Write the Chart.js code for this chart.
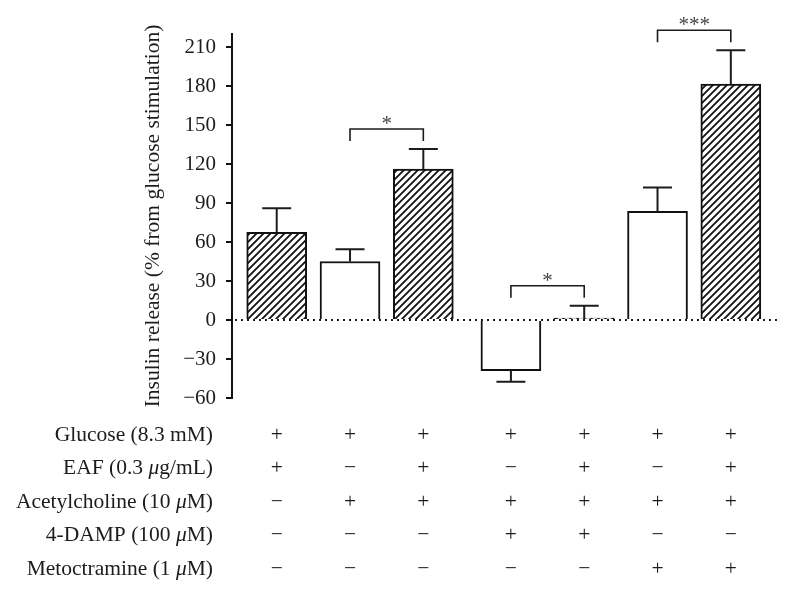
<!DOCTYPE html>
<html>
<head>
<meta charset="utf-8">
<script src="https://cdn.jsdelivr.net/npm/chart.js@4.4.0/dist/chart.umd.min.js"></script>
<style>
  body { margin: 0; background: #fff; }
</style>
</head>
<body>
<canvas id="insulinChart" width="790" height="594"></canvas>
<script>
// insulin release, % from glucose stimulation (mean and SEM)
const groups = ['Glu+EAF', 'ACh', 'ACh+EAF', 'ACh+4-DAMP', 'ACh+4-DAMP+EAF', 'ACh+Meto', 'ACh+Meto+EAF'];
const meanRelease = [67.5, 45, 116, -39, 1.5, 83.5, 181.5];
const semRelease = [18.5, 9.5, 15.5, 8.5, 9.5, 18.5, 26];
const yTicks = [-60, -30, 0, 30, 60, 90, 120, 150, 180, 210];

// treatment table under the bars
const rowLabels = ['Glucose (8.3 mM)', 'EAF (0.3 μg/mL)', 'Acetylcholine (10 μM)', '4-DAMP (100 μM)', 'Metoctramine (1 μM)'];
const glucose = ['+', '+', '+', '+', '+', '+', '+'];
const eaf = ['+', '−', '+', '−', '+', '−', '+'];
const acetylcholine = ['−', '+', '+', '+', '+', '+', '+'];
const damp = ['−', '−', '−', '+', '+', '−', '−'];
const metoctramine = ['−', '−', '−', '−', '−', '+', '+'];
const tableRows = [glucose, eaf, acetylcholine, damp, metoctramine];

// significance brackets (bar index pairs)
const sigFrom = [1, 3, 5];
const sigTo = [2, 4, 6];
const sigLabel = ['*', '*', '***'];

const FONT = 'Liberation Serif';
const INK = '#1c1c1c';

// diagonal hatch for the EAF bars
function hatch() {
    const c = document.createElement('canvas');
    c.width = 7; c.height = 7;
    const g = c.getContext('2d');
    g.fillStyle = '#fff';
    g.fillRect(0, 0, 7, 7);
    g.strokeStyle = '#111';
    g.lineWidth = 1.8;
    g.beginPath();
    g.moveTo(-1, 8); g.lineTo(8, -1);
    g.moveTo(-1, 1); g.lineTo(1, -1);
    g.moveTo(6, 8); g.lineTo(8, 6);
    g.stroke();
    return g.createPattern(c, 'repeat');
}

const extras = {
    id: 'extras',
    afterDatasetsDraw(chart) {
        const ctx = chart.ctx, y = chart.scales.y, area = chart.chartArea;
        const bars = chart.getDatasetMeta(0).data;
        const y0 = y.getPixelForValue(0);
        ctx.save();
        // dotted zero line
        ctx.strokeStyle = INK;
        ctx.lineWidth = 2;
        ctx.setLineDash([2, 4]);
        ctx.beginPath();
        ctx.moveTo(area.left + 3, y0);
        ctx.lineTo(area.right, y0);
        ctx.stroke();
        ctx.setLineDash([]);

        // one-sided error bars
        const tops = [];
        bars.forEach((bar, i) => {
            const v = meanRelease[i];
            const end = y.getPixelForValue(v + Math.sign(v) * semRelease[i]);
            tops.push(v > 0 ? end : y0);
            ctx.beginPath();
            ctx.moveTo(bar.x, bar.y);
            ctx.lineTo(bar.x, end);
            ctx.moveTo(bar.x - 14.5, end);
            ctx.lineTo(bar.x + 14.5, end);
            ctx.stroke();
        });

        // brackets with stars
        ctx.lineWidth = 1.6;
        ctx.font = '21px "' + FONT + '"';
        ctx.textAlign = 'center';
        ctx.textBaseline = 'alphabetic';
        sigFrom.forEach((a, k) => {
            const b = sigTo[k];
            const top = Math.min(tops[a], tops[b]) - 20;
            ctx.strokeStyle = INK;
            ctx.beginPath();
            ctx.moveTo(bars[a].x, top + 12);
            ctx.lineTo(bars[a].x, top);
            ctx.lineTo(bars[b].x, top);
            ctx.lineTo(bars[b].x, top + 12);
            ctx.stroke();
            ctx.fillStyle = '#444';
            ctx.fillText(sigLabel[k], (bars[a].x + bars[b].x) / 2, top + 1);
        });
        ctx.restore();
    },
    afterDraw(chart) {
        const ctx = chart.ctx, area = chart.chartArea;
        const bars = chart.getDatasetMeta(0).data;
        const normal = '21.5px "' + FONT + '"';
        const italic = 'italic 21.5px "' + FONT + '"';
        ctx.save();
        ctx.fillStyle = INK;
        ctx.textBaseline = 'middle';
        rowLabels.forEach((label, r) => {
            const ry = area.bottom + 37 + r * 33.6;
            // label, right aligned, with an italic mu
            const parts = label.split('μ');
            const pieces = [];
            parts.forEach((p, j) => {
                if (j > 0) pieces.push({ t: 'μ', f: italic });
                pieces.push({ t: p, f: normal });
            });
            let w = 0;
            pieces.forEach(p => { ctx.font = p.f; p.w = ctx.measureText(p.t).width; w += p.w; });
            let x = 213 - w;
            ctx.textAlign = 'left';
            pieces.forEach(p => { ctx.font = p.f; ctx.fillText(p.t, x, ry); x += p.w; });
            // + / − marks under each bar
            ctx.font = normal;
            ctx.textAlign = 'center';
            tableRows[r].forEach((m, i) => ctx.fillText(m, bars[i].x, ry));
        });
        ctx.restore();
    }
};

const ctx = document.getElementById('insulinChart').getContext('2d');
new Chart(ctx, {
    type: 'bar',
    data: {
        datasets: [{
            // a little extra room before the 4-DAMP groups
            data: groups.map((g, i) => ({ x: i + (i >= 3 ? 0.195 : 0), y: meanRelease[i] })),
            backgroundColor: eaf.map(m => (m === '+' ? hatch() : '#fff')),
            borderColor: '#111',
            borderWidth: 2,
            borderSkipped: 'start',
            barThickness: 60
        }]
    },
    options: {
        responsive: false,
        animation: false,
        layout: { padding: { left: 130, top: 34, right: 13, bottom: 196 } },
        plugins: { legend: { display: false }, tooltip: { enabled: false } },
        scales: {
            x: { type: 'linear', display: false, offset: false, min: -0.61, max: 6.825 },
            y: {
                min: -60,
                max: 220,
                afterFit: s => { s.width = 102; },
                afterBuildTicks: s => { s.ticks = yTicks.map(v => ({ value: v })); },
                ticks: {
                    color: INK,
                    padding: 10,
                    font: { family: FONT, size: 21 },
                    callback: v => String(v).replace('-', '−')
                },
                grid: { drawOnChartArea: false, tickLength: 6, color: '#111', lineWidth: 2 },
                border: { color: '#111', width: 2 },
                title: {
                    display: true,
                    text: 'Insulin release (% from glucose stimulation)',
                    color: INK,
                    font: { family: FONT, size: 21.5 },
                    padding: { top: 10, bottom: 0 }
                }
            }
        }
    },
    plugins: [extras]
});
</script>
</body>
</html>
